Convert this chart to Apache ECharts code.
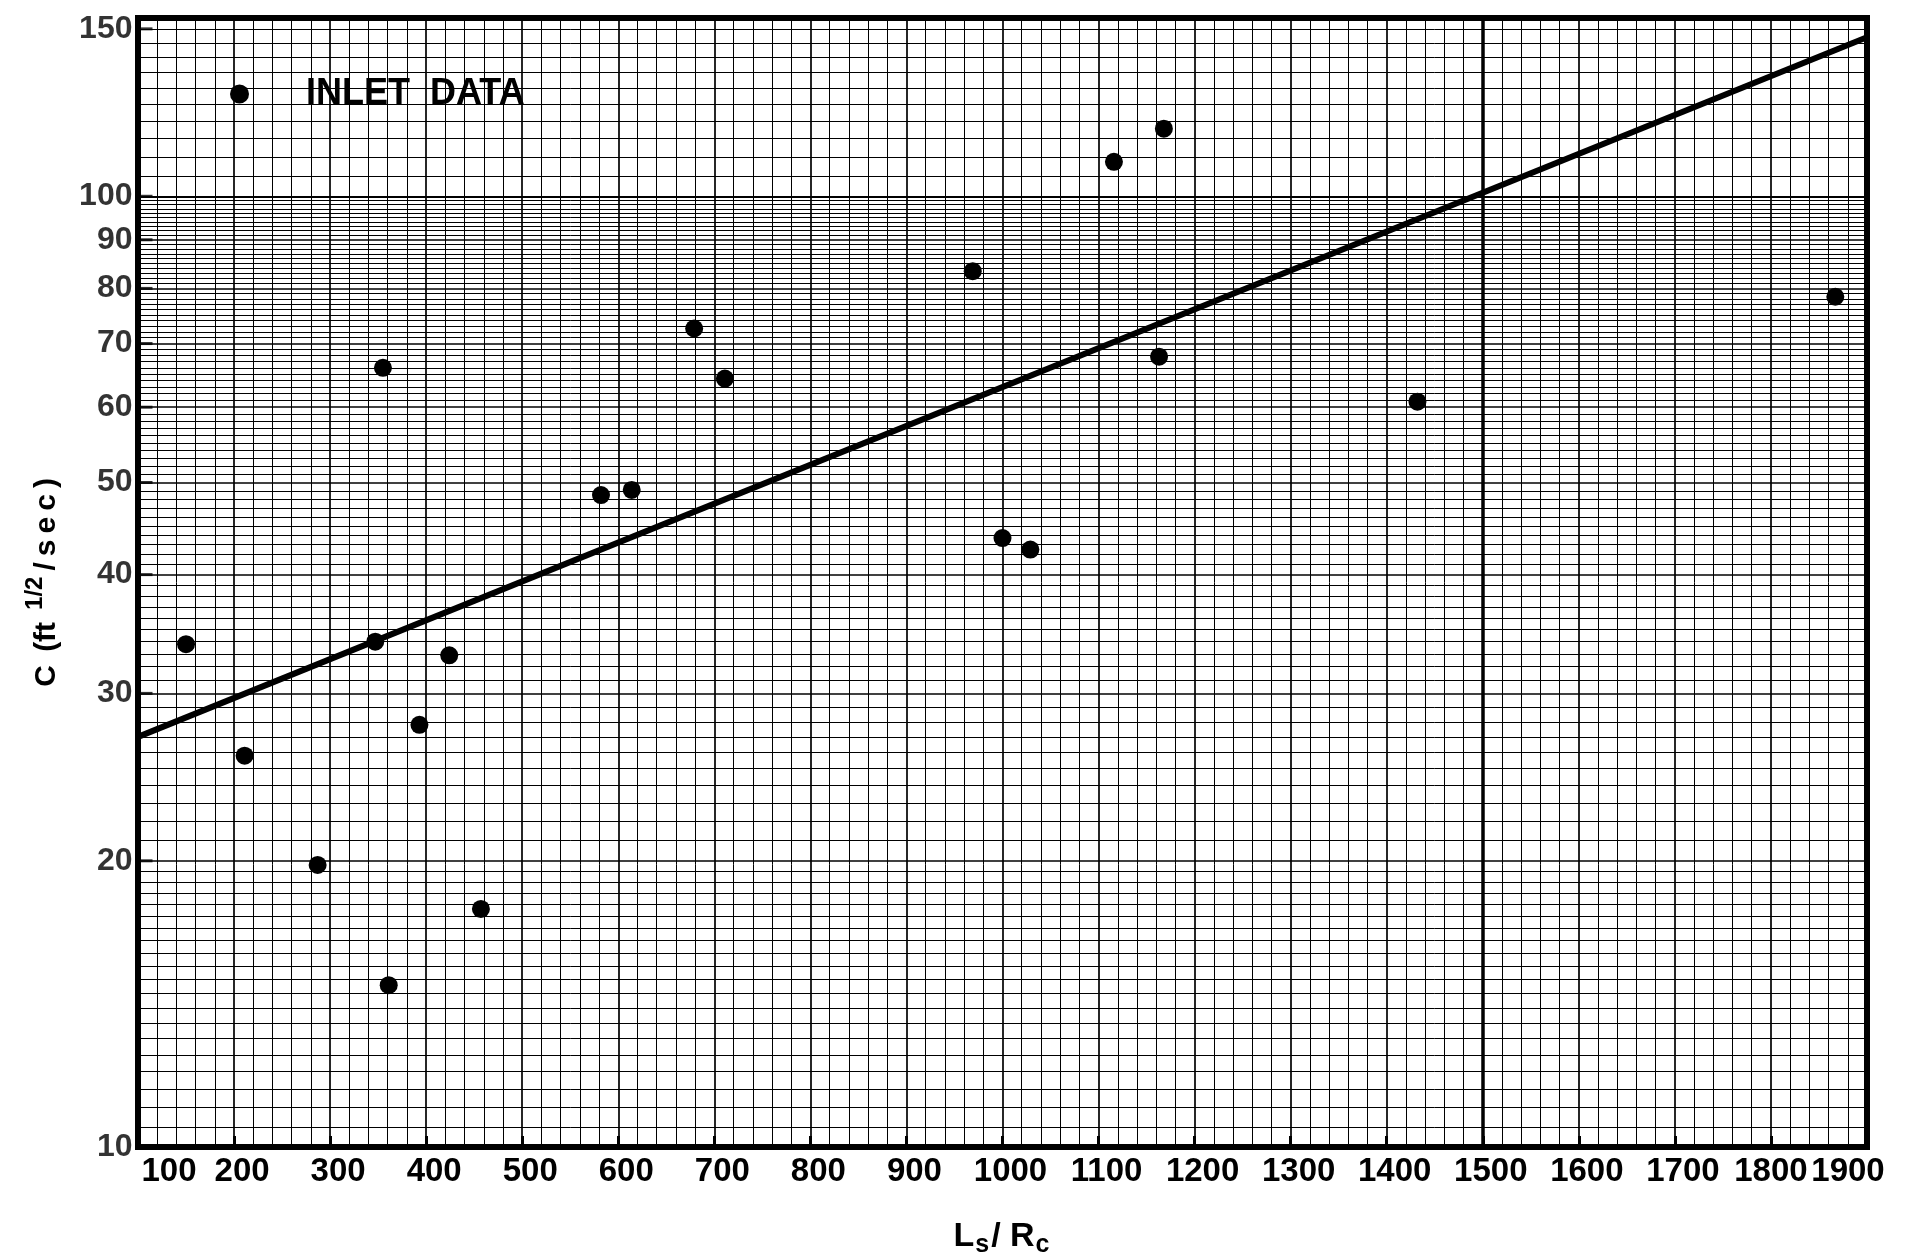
<!DOCTYPE html>
<html><head><meta charset="utf-8">
<script src="https://cdn.jsdelivr.net/npm/echarts@6/dist/echarts.min.js"></script>
<style>html,body{margin:0;padding:0;background:#fff}#c{width:1920px;height:1254px}</style>
</head><body><div id="c"></div>
<script>
// ---- data ----
const inletLsRc = [150, 211, 287, 347, 355, 361, 393, 424, 457, 582, 614, 679, 711, 969, 1000, 1029, 1116, 1168, 1163, 1432, 1867];
const inletC    = [33.8, 25.8, 19.8, 34.0, 66.0, 14.8, 27.8, 32.9, 17.8, 48.5, 49.1, 72.6, 64.3, 83.4, 43.7, 42.5, 108.7, 117.8, 67.8, 60.8, 78.4];
const fitLsRc = [100, 1900];
const fitC    = [27, 147];
const xTickLabels = [100, 200, 300, 400, 500, 600, 700, 800, 900, 1000, 1100, 1200, 1300, 1400, 1500, 1600, 1700, 1800, 1900];
const yTickLabels = [10, 20, 30, 40, 50, 60, 70, 80, 90, 100, 150];
// graph-paper ruling of the C axis: [from, to, step]
const paperRulingC = [[10, 20, 0.5], [20, 100, 1], [100, 150, 5]];
const sheetJoinLsRc = [1500];

const FONT = '"Liberation Sans", Arial, sans-serif';

// expand the ruling spec into horizontal paper lines
const rulingLines = [];
paperRulingC.forEach(([a, b, s]) => {
  const n = Math.round((b - a) / s);
  for (let i = 0; i < n; i++) {
    const v = +(a + i * s).toFixed(2);
    if (v === 10) continue;
    const major = (v % 10 === 0 && v <= 100);
    rulingLines.push({ yAxis: v, lineStyle: { width: v === 100 ? 2.2 : (major ? 1.7 : 1) } });
  }
});
rulingLines.push({ yAxis: 150, lineStyle: { width: 1 } });
sheetJoinLsRc.forEach(x => rulingLines.push({ xAxis: x, lineStyle: { width: 3.5 } }));

const lbl = (extra) => Object.assign({ fontSize: 33, fontWeight: 'bold', fontFamily: FONT, color: '#000' }, extra);

const chart = echarts.init(document.getElementById('c'), null, { renderer: 'canvas' });
chart.setOption({
  animation: false,
  backgroundColor: '#fff',
  grid: { left: 138, right: 53, top: 18, bottom: 107, containLabel: false, outerBoundsMode: 'none',
    show: true, borderColor: '#000', borderWidth: 6, backgroundColor: 'transparent' },
  legend: {
    data: ['INLET DATA'], left: 225, top: 71, icon: 'circle', itemWidth: 19, itemHeight: 19,
    itemStyle: { color: '#000' },
    formatter: '{t|INLET  DATA}',
    textStyle: { rich: { t: { fontSize: 36, fontWeight: 'bold', fontFamily: FONT, color: '#000', padding: [0, 0, 0, 52] } } },
    selectedMode: false
  },
  xAxis: {
    type: 'value', min: 100, max: 1900, interval: 100,
    axisLine: { show: false },
    axisTick: { show: true, inside: true, length: 11, lineStyle: { color: '#000', width: 3 } },
    splitLine: { show: true, lineStyle: { color: '#000', width: 1.7 } },
    minorTick: { show: false, splitNumber: 5 },
    minorSplitLine: { show: true, lineStyle: { color: '#000', width: 1 } },
    axisLabel: {
      margin: 8, color: '#000', showMinLabel: true, showMaxLabel: true, hideOverlap: false,
      formatter: v => {
        if (xTickLabels.indexOf(v) < 0) return '';
        if (v === 100) return '{l|' + v + '}';
        if (v === 1900) return '{r|' + v + '}';
        if (v === 1800) return '{m|' + v + '}';
        return '{n|' + v + '}';
      },
      rich: {
        n: lbl({ padding: [0, 0, 0, 16] }),
        m: lbl({ padding: [0, 0, 0, 0] }),
        l: lbl({ padding: [0, 0, 0, 62] }),
        r: lbl({ padding: [0, 38, 0, 0] })
      }
    },
    name: '{b|L}{s|s}{b|/ R}{s|c}', nameLocation: 'middle', nameGap: 68,
    nameTextStyle: { rich: {
      b: { fontSize: 34, fontWeight: 'bold', fontFamily: FONT, color: '#000' },
      s: { fontSize: 25, fontWeight: 'bold', fontFamily: FONT, color: '#000', padding: [18, 2, 0, 1] }
    } }
  },
  yAxis: {
    type: 'log', logBase: 10, min: 10, max: 154,
    axisLine: { show: false }, axisTick: { show: false }, axisLabel: { show: false },
    splitLine: { show: false }, minorSplitLine: { show: false },
    name: '{a|C}    {a|(ft}{p|1/2}{a|/\u2009s\u2009e\u2009c\u2009)}', nameLocation: 'middle', nameRotate: 90, nameGap: 67,
    nameTextStyle: { rich: {
      a: { fontSize: 30, fontWeight: 'bold', fontFamily: FONT, color: '#000' },
      p: { fontSize: 24, fontWeight: 'bold', fontFamily: FONT, color: '#000', padding: [0, 6, 24, 12] }
    } }
  },
  series: [
    { name: 'paper', type: 'line', data: [], z: 1, silent: true,
      markLine: { silent: true, symbol: ['none', 'none'], label: { show: false }, z: 1, animation: false,
        lineStyle: { color: '#000', type: 'solid', width: 1 }, emphasis: { disabled: true },
        data: rulingLines } },
    { name: 'fit', type: 'line', data: fitLsRc.map((x, i) => [x, fitC[i]]), symbol: 'none', z: 8, silent: true,
      lineStyle: { color: '#000', width: 6 } },
    { name: 'INLET DATA', type: 'scatter', data: inletLsRc.map((x, i) => [x, inletC[i]]), symbol: 'circle', symbolSize: 18, z: 9,
      itemStyle: { color: '#000', opacity: 1 } },
    { name: 'yticks', type: 'scatter', data: yTickLabels.map(v => [100, v]), clip: false, silent: true, z: 9,
      symbol: 'rect', symbolSize: [15, 3], symbolOffset: [7, 0], itemStyle: { color: '#000' },
      label: { show: true, position: 'left', distance: 5, formatter: p => String(p.value[1]),
        fontSize: 32, fontWeight: 'bold', fontFamily: FONT, color: '#000' } }
  ]
});
</script></body></html>
